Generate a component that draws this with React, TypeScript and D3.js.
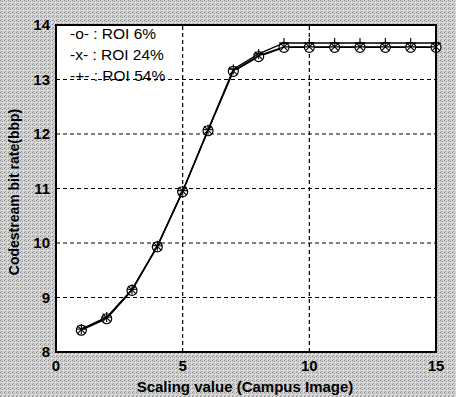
import * as d3 from 'd3';
import React from 'react';

// scaling values along x
const scaling = [1, 2, 3, 4, 5, 6, 7, 8, 9, 10, 11, 12, 13, 14, 15];

// codestream bit rate (bbp) per ROI size
const roi6 = [8.40, 8.61, 9.13, 9.93, 10.94, 12.06, 13.15, 13.42, 13.59, 13.59, 13.59, 13.59, 13.59, 13.59, 13.59];
const roi24 = [8.41, 8.63, 9.14, 9.94, 10.95, 12.07, 13.16, 13.44, 13.60, 13.60, 13.60, 13.60, 13.60, 13.60, 13.60];
const roi54 = [8.42, 8.64, 9.15, 9.95, 10.96, 12.08, 13.19, 13.47, 13.67, 13.67, 13.67, 13.67, 13.67, 13.67, 13.67];

const xTicks = [0, 5, 10, 15];
const yTicks = [8, 9, 10, 11, 12, 13, 14];
const legendLabels = ['-o- : ROI 6%', '-x- : ROI 24%', '-+- : ROI 54%'];

const W = 456;
const H = 397;
const margin = { top: 25, right: 20, bottom: 45, left: 56 };

const App = () => {
  const x = d3.scaleLinear().domain([0, 15]).range([margin.left, W - margin.right]);
  const y = d3.scaleLinear().domain([8, 14]).range([H - margin.bottom, margin.top]);

  const line = d3.line<number>()
    .x((_, i) => x(scaling[i]))
    .y(d => y(d));

  const series = [
    { values: roi6, marker: 'o' },
    { values: roi24, marker: 'x' },
    { values: roi54, marker: '+' },
  ];

  const font = 'Arial, "Liberation Sans", sans-serif';

  const drawMarker = (m: string, cx: number, cy: number, key: string) => {
    if (m === 'o') {
      return <circle key={key} cx={cx} cy={cy} r={5} fill="white" stroke="black" strokeWidth={1.2} />;
    }
    if (m === 'x') {
      return (
        <g key={key} stroke="black" strokeWidth={1.1}>
          <line x1={cx - 4} y1={cy - 4} x2={cx + 4} y2={cy + 4} />
          <line x1={cx - 4} y1={cy + 4} x2={cx + 4} y2={cy - 4} />
        </g>
      );
    }
    return (
      <g key={key} stroke="black" strokeWidth={1.1}>
        <line x1={cx - 5} y1={cy} x2={cx + 5} y2={cy} />
        <line x1={cx} y1={cy - 5} x2={cx} y2={cy + 5} />
      </g>
    );
  };

  return (
    <svg width={W} height={H} style={{ position: 'absolute', left: 0, top: 0 }}>
      <defs>
        <pattern id="dither" width="4" height="4" patternUnits="userSpaceOnUse">
          <rect width="4" height="4" fill="#d2d2d2" />
          <rect x="0" y="0" width="1" height="1" fill="#858585" />
          <rect x="2" y="1" width="1" height="1" fill="#959595" />
          <rect x="1" y="3" width="1" height="1" fill="#9a9a9a" />
          <rect x="3" y="2" width="1" height="1" fill="#eeeeee" />
        </pattern>
      </defs>
      <rect width={W} height={H} fill="url(#dither)" />
      <rect x={x(0)} y={y(14)} width={x(15) - x(0)} height={y(8) - y(14)} fill="white" />

      {/* grid */}
      <g stroke="black" strokeWidth={1.2} strokeDasharray="4,3">
        {[5, 10].map(t => (
          <line key={'gx' + t} x1={x(t)} x2={x(t)} y1={y(8)} y2={y(14)} />
        ))}
        {[9, 10, 11, 12, 13].map(t => (
          <line key={'gy' + t} x1={x(0)} x2={x(15)} y1={y(t)} y2={y(t)} />
        ))}
      </g>

      {/* series */}
      {series.map((s, si) => (
        <g key={si}>
          <path d={line(s.values) || ''} fill="none" stroke="black" strokeWidth={1.3} />
          {s.values.map((v, i) => drawMarker(s.marker, x(scaling[i]), y(v), si + '-' + i))}
        </g>
      ))}

      {/* frame */}
      <rect x={x(0)} y={y(14)} width={x(15) - x(0)} height={y(8) - y(14)} fill="none" stroke="black" strokeWidth={2} />

      {/* legend */}
      <g fontFamily={font} fontSize={15.5} fill="black">
        {legendLabels.map((l, i) => (
          <text key={l} x={70} y={38.5 + i * 21} style={{ whiteSpace: 'pre' }}>{l}</text>
        ))}
      </g>

      {/* ticks */}
      <g fontFamily={font} fontSize={15} fontWeight="bold" fill="black">
        {yTicks.map(t => (
          <text key={'yt' + t} x={x(0) - 6} y={y(t) + 5} textAnchor="end">{t}</text>
        ))}
        {xTicks.map(t => (
          <text key={'xt' + t} x={x(t)} y={y(8) + 19} textAnchor="middle">{t}</text>
        ))}
      </g>

      {/* axis labels */}
      <text x={245} y={392} textAnchor="middle" fontFamily={font} fontSize={15} fontWeight="bold">
        Scaling value (Campus Image)
      </text>
      <text transform={`translate(19,192) rotate(-90)`} textAnchor="middle" fontFamily={font} fontSize={14} fontWeight="bold">
        Codestream bit rate(bbp)
      </text>
    </svg>
  );
};

export default App;
